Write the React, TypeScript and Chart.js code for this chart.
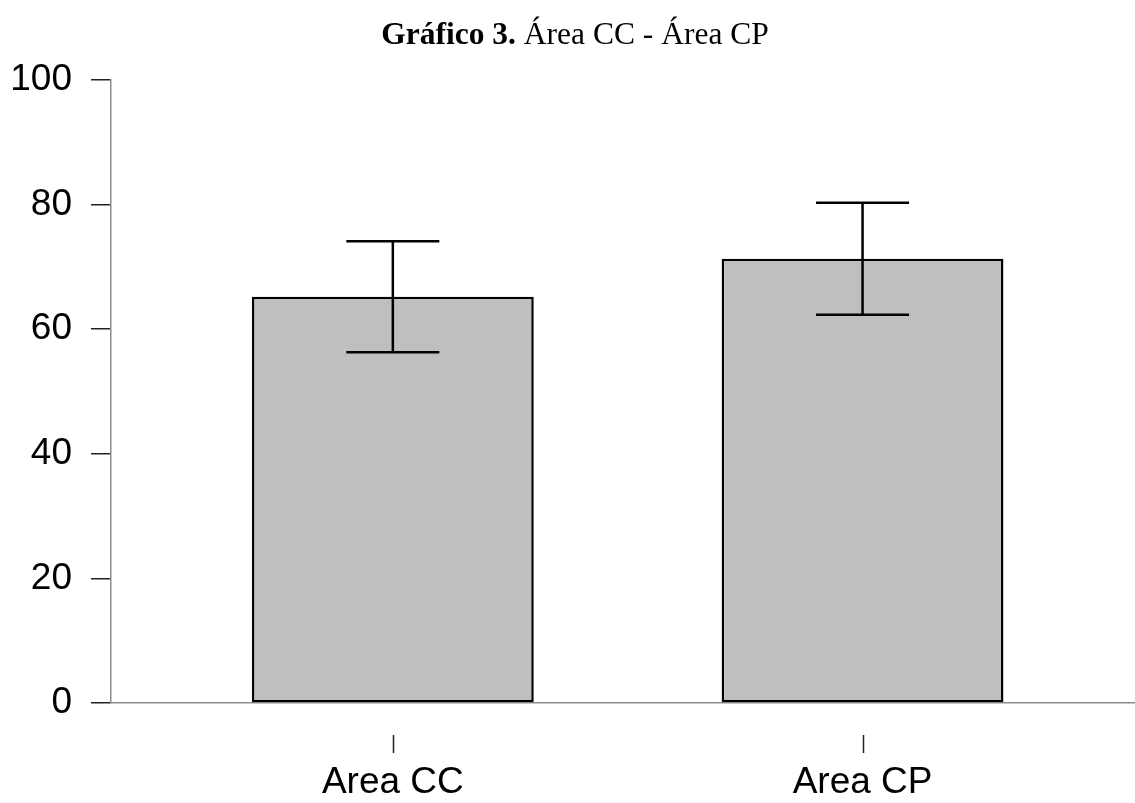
import React, { useEffect, useRef } from 'react';
import { Chart, registerables } from 'chart.js';

Chart.register(...registerables);

const CATEGORIES = ['Area CC', 'Area CP'];
const MEANS = [65.2, 71.3];
const ERRORS = [8.9, 9.0];
const Y_MIN = 0;
const Y_MAX = 100;
const Y_STEP = 20;
const TITLE_BOLD = 'Gráfico 3.';
const TITLE_REST = 'Área CC - Área CP';

const SANS = '"Liberation Sans", Arial, sans-serif';
const SERIF = '"Liberation Serif", "Times New Roman", serif';

const titlePlugin = {
  id: 'mixedTitle',
  afterDraw(chart: any) {
    const ctx = chart.ctx;
    ctx.save();
    ctx.fillStyle = '#000';
    ctx.textBaseline = 'alphabetic';
    ctx.textAlign = 'left';
    const boldFont = `bold 31.5px ${SERIF}`;
    const regFont = `31.5px ${SERIF}`;
    ctx.font = boldFont;
    const wb = ctx.measureText(TITLE_BOLD).width;
    ctx.font = regFont;
    const rest = ' ' + TITLE_REST;
    const wr = ctx.measureText(rest).width;
    const cx = 575;
    const x0 = cx - (wb + wr) / 2;
    const yb = 44;
    ctx.font = boldFont;
    ctx.fillText(TITLE_BOLD, x0, yb);
    ctx.font = regFont;
    ctx.fillText(rest, x0 + wb, yb);
    ctx.restore();
  },
};

const xTickMarkPlugin = {
  id: 'xTickMarks',
  afterDraw(chart: any) {
    const ctx = chart.ctx;
    const xs = chart.scales.x;
    const bottom = chart.chartArea.bottom;
    ctx.save();
    ctx.strokeStyle = '#222';
    ctx.lineWidth = 1.5;
    CATEGORIES.forEach((_, i) => {
      const x = Math.round(xs.getPixelForValue(i)) + 0.5;
      ctx.beginPath();
      ctx.moveTo(x, bottom + 32);
      ctx.lineTo(x, bottom + 50);
      ctx.stroke();
    });
    ctx.restore();
  },
};

const errorBarPlugin = {
  id: 'errorBars',
  afterDatasetsDraw(chart: any) {
    const meta = chart.getDatasetMeta(0);
    const ys = chart.scales.y;
    const ctx = chart.ctx;
    ctx.save();
    ctx.strokeStyle = '#000';
    ctx.lineWidth = 2.5;
    meta.data.forEach((bar: any, i: number) => {
      const x = bar.x;
      const half = (bar.width * 0.33) / 2;
      const yHi = ys.getPixelForValue(MEANS[i] + ERRORS[i]);
      const yLo = ys.getPixelForValue(MEANS[i] - ERRORS[i]);
      ctx.beginPath();
      ctx.moveTo(x, yHi);
      ctx.lineTo(x, yLo);
      ctx.moveTo(x - half, yHi);
      ctx.lineTo(x + half, yHi);
      ctx.moveTo(x - half, yLo);
      ctx.lineTo(x + half, yLo);
      ctx.stroke();
    });
    ctx.restore();
  },
};

export default function App() {
  const canvasRef = useRef<HTMLCanvasElement | null>(null);

  useEffect(() => {
    if (!canvasRef.current) return;
    const chart = new Chart(canvasRef.current, {
      type: 'bar',
      data: {
        datasets: [
          {
            data: MEANS.map((v, i) => ({ x: i, y: v })),
            backgroundColor: '#bfbfbf',
            borderColor: '#000',
            borderWidth: 2.5,
            borderSkipped: false,
            categoryPercentage: 0.8,
            barPercentage: 0.75,
          },
        ],
      },
      options: {
        animation: false,
        responsive: false,
        maintainAspectRatio: false,
        devicePixelRatio: 1,
        layout: { padding: { top: 80, left: 0, right: 0, bottom: 0 } },
        plugins: {
          legend: { display: false },
          tooltip: { enabled: false },
          title: { display: false },
        },
        scales: {
          x: {
            type: 'linear',
            offset: false,
            min: -0.6,
            max: 1.58,
            afterBuildTicks: (scale: any) => {
              scale.ticks = CATEGORIES.map((_, i) => ({ value: i }));
            },
            afterFit: (scale: any) => {
              scale.height = 100;
            },
            grid: { display: false, drawTicks: false },
            border: { display: true, color: '#8c8c8c', width: 1.5 },
            ticks: {
              autoSkip: false,
              maxRotation: 0,
              padding: 58,
              color: '#000',
              font: { family: SANS, size: 37 },
              callback: (v: any) => CATEGORIES[Math.round(Number(v))] ?? '',
            },
          },
          y: {
            type: 'linear',
            min: Y_MIN,
            max: Y_MAX,
            afterFit: (scale: any) => {
              scale.width = 111;
            },
            grid: {
              display: true,
              drawOnChartArea: false,
              drawTicks: true,
              tickLength: 20,
              color: '#222',
              lineWidth: 1.5,
            },
            border: { display: true, color: '#8c8c8c', width: 1.5 },
            ticks: {
              stepSize: Y_STEP,
              padding: 19,
              color: '#000',
              font: { family: SANS, size: 37 },
            },
          },
        },
      },
      plugins: [errorBarPlugin, xTickMarkPlugin, titlePlugin],
    } as any);
    return () => chart.destroy();
  }, []);

  return (
    <div style={{ position: 'absolute', left: 0, top: 0, width: 1135, height: 803, background: '#fff' }}>
      <canvas ref={canvasRef} width={1135} height={803} style={{ display: 'block' }} />
    </div>
  );
}
